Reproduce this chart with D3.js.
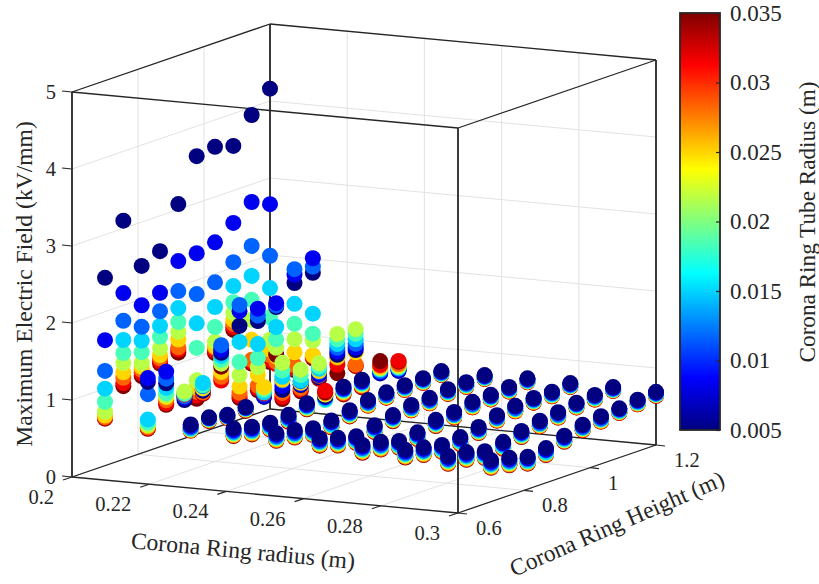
<!DOCTYPE html>
<html>
<head>
<meta charset="utf-8">
<script src="https://cdnjs.cloudflare.com/ajax/libs/d3/7.8.5/d3.min.js"></script>
<style>
  html, body { margin: 0; padding: 0; background: #fff; }
  text { font-family: "Liberation Serif", serif; fill: #262626; }
</style>
</head>
<body>
<div id="chart"></div>
<script>
// ring radius, ring height and tube radius levels of the sweep
var ringRadius = [0.2, 0.2111, 0.2222, 0.2333, 0.2444, 0.2556, 0.2667, 0.2778, 0.2889, 0.3];
var ringHeight = [0.7, 0.7556, 0.8111, 0.8667, 0.9222, 0.9778, 1.0333, 1.0889, 1.1444, 1.2];
var tubeRadius = [0.005, 0.00833, 0.01167, 0.015, 0.01833, 0.02167, 0.025, 0.02833, 0.03167, 0.035];

var xTicks = [0.2, 0.22, 0.24, 0.26, 0.28, 0.3];
var yTicks = [0.6, 0.8, 1, 1.2];
var zTicks = [0, 1, 2, 3, 4, 5];
var cTicks = [0.005, 0.01, 0.015, 0.02, 0.025, 0.03, 0.035];

// max field (kV/mm): one table per ring radius, rows = ring height, columns = tube radius
var fieldX0 = [
  [2.44,1.63,1.23,1.00,.83,.70,.65,.63,.62,.61],
  [3.10,2.16,1.80,1.55,1.38,1.25,1.13,1.06,.99,.95],
  [2.43,1.92,1.64,1.46,1.31,1.17,1.12,1.08,1.04,1.00],
  [2.54,2.00,1.76,1.57,1.43,1.28,1.19,1.15,1.11,1.08],
  [3.07,2.33,1.94,1.72,1.54,1.41,1.31,1.21,1.18,1.14],
  [3.61,2.35,1.82,1.44,1.12,.70,.61,.55,.50,.46],
  [3.65,2.41,1.89,1.57,1.31,1.12,1.06,1.04,1.00,.97],
  [3.58,2.58,2.07,1.76,1.55,1.41,1.32,1.27,1.23,1.19],
  [3.90,2.77,2.20,1.81,1.50,1.24,.98,.72,.69,.67],
  [4.16,2.66,1.99,1.57,1.19,.90,.77,.70,.64,.61]
];
var fieldX1 = [
  [1.14,1.19,.98,.65,.61,.58,.57,.55,.54,.53],
  [1.04,1.19,1.10,.98,.91,.88,.86,.82,.78,.76],
  [.74,.77,.79,.82,.83,.85,.83,.82,.81,.79],
  [.78,.80,.84,.88,.85,.83,.81,.76,.75,.74],
  [1.19,1.23,1.29,1.15,1.10,1.05,.94,.88,.83,1.01],
  [1.46,1.65,1.73,1.25,.99,.82,.67,.59,.55,.52],
  [1.44,1.60,1.51,1.14,.96,.84,.74,.60,.57,.54],
  [1.54,1.59,1.56,1.28,1.12,1.01,.90,.83,.80,.92],
  [1.77,1.88,1.95,1.50,1.24,1.04,.87,.70,.66,.64],
  [1.82,2.01,1.90,1.29,1.03,.94,.75,.74,.73,.71]
];
var fieldX2 = [
  [.64,.62,.60,.59,.58,.58,.57,.57,.56,.56],
  [.65,.64,.64,.63,.63,.62,.62,.61,.61,.60],
  [.60,.59,.59,.58,.58,.58,.57,.57,.56,.56],
  [.62,.61,.61,.60,.60,.59,.59,.58,.58,.57],
  [.67,.68,.71,.73,.76,.79,.80,.73,.72,.71],
  [.68,.73,.80,.85,.93,1.03,.81,.64,.59,.56],
  [.66,.67,.71,.72,.79,.86,.69,.62,.60,.58],
  [.68,.71,.75,.79,.82,.86,.76,.70,.67,.66],
  [.89,.93,.98,1.03,1.09,1.16,.86,.85,.76,.65],
  [.87,.90,.95,1.01,1.08,1.14,.84,.68,.67,.66]
];
var fieldX3 = [
  [.64,.62,.60,.59,.58,.57,.56,.55,.55,.54],
  [.58,.56,.54,.53,.52,.51,.50,.49,.49,.48],
  [.55,.53,.52,.50,.49,.49,.48,.47,.47,.46],
  [.57,.55,.53,.52,.51,.51,.50,.50,.49,.48],
  [.64,.62,.61,.60,.59,.58,.58,.57,.57,.56],
  [.65,.64,.63,.61,.60,.67,.68,.69,.72,.70],
  [.69,.67,.66,.65,.64,.63,.62,.61,.60,.59],
  [.70,.68,.67,.66,.65,.64,.63,.62,.61,.60],
  [.70,.71,.73,.75,.76,.77,.78,.80,.81,.86],
  [.65,.66,.68,.69,.70,.71,.73,.74,.78,.77]
];
var fieldX4 = [
  [.63,.61,.59,.58,.57,.56,.55,.54,.54,.53],
  [.59,.57,.55,.54,.53,.52,.51,.50,.50,.49],
  [.53,.51,.50,.48,.47,.47,.46,.45,.45,.44],
  [.55,.53,.52,.50,.49,.49,.48,.47,.47,.46],
  [.60,.58,.57,.56,.55,.54,.54,.53,.53,.52],
  [.65,.64,.62,.61,.61,.60,.59,.59,.58,.58],
  [.67,.66,.64,.63,.63,.62,.61,.61,.60,.60],
  [.68,.67,.66,.65,.64,.64,.63,.63,.62,.62],
  [.69,.68,.67,.66,.65,.65,.64,.64,.63,.63],
  [.70,.69,.68,.67,.67,.66,.66,.66,.65,.65]
];
var fieldX5 = [
  [.62,.60,.58,.57,.56,.55,.54,.53,.53,.52],
  [.54,.52,.50,.49,.48,.47,.46,.45,.45,.44],
  [.48,.46,.45,.43,.42,.42,.41,.40,.40,.39],
  [.54,.52,.51,.49,.48,.48,.47,.46,.46,.45],
  [.59,.57,.56,.55,.54,.53,.53,.52,.52,.51],
  [.64,.63,.61,.60,.60,.59,.58,.58,.57,.57],
  [.65,.64,.62,.61,.61,.60,.59,.59,.58,.58],
  [.68,.67,.66,.65,.64,.64,.63,.63,.62,.62],
  [.69,.68,.67,.66,.65,.65,.64,.64,.63,.63],
  [.70,.69,.68,.67,.67,.66,.66,.66,.65,.65]
];
var fieldX6 = [
  [.58,.56,.54,.53,.52,.51,.50,.49,.49,.48],
  [.54,.52,.50,.49,.48,.47,.46,.45,.45,.44],
  [.47,.45,.44,.42,.41,.41,.40,.39,.39,.38],
  [.50,.48,.47,.45,.44,.44,.43,.42,.42,.41],
  [.58,.56,.55,.54,.53,.52,.52,.51,.51,.50],
  [.60,.59,.57,.56,.56,.55,.54,.54,.53,.53],
  [.65,.64,.62,.61,.61,.60,.59,.59,.58,.58],
  [.66,.65,.64,.63,.62,.62,.61,.61,.60,.60],
  [.68,.67,.66,.65,.64,.64,.63,.63,.62,.62],
  [.71,.70,.69,.68,.68,.67,.67,.67,.66,.66]
];
var fieldX7 = [
  [.57,.55,.53,.52,.51,.50,.49,.48,.48,.47],
  [.52,.50,.48,.47,.46,.45,.44,.43,.43,.42],
  [.47,.45,.44,.42,.41,.41,.40,.39,.39,.38],
  [.49,.47,.46,.44,.43,.43,.42,.41,.41,.40],
  [.54,.52,.51,.50,.49,.48,.48,.47,.47,.46],
  [.61,.60,.58,.57,.57,.56,.55,.55,.54,.54],
  [.65,.64,.62,.61,.61,.60,.59,.59,.58,.58],
  [.67,.66,.65,.64,.63,.63,.62,.62,.61,.61],
  [.67,.66,.65,.64,.63,.63,.62,.62,.61,.61],
  [.70,.69,.68,.67,.67,.66,.66,.66,.65,.65]
];
var fieldX8 = [
  [.54,.52,.50,.49,.48,.47,.46,.45,.45,.44],
  [.51,.49,.47,.46,.45,.44,.43,.42,.42,.41],
  [.44,.42,.41,.39,.38,.38,.37,.36,.36,.35],
  [.48,.46,.45,.43,.42,.42,.41,.40,.40,.39],
  [.54,.52,.51,.50,.49,.48,.48,.47,.47,.46],
  [.59,.58,.56,.55,.55,.54,.53,.53,.52,.52],
  [.62,.61,.59,.58,.58,.57,.56,.56,.55,.55],
  [.66,.65,.64,.63,.62,.62,.61,.61,.60,.60],
  [.68,.67,.66,.65,.64,.64,.63,.63,.62,.62],
  [.70,.69,.68,.67,.67,.66,.66,.66,.65,.65]
];
var fieldX9 = [
  [.54,.52,.50,.49,.48,.47,.46,.45,.45,.44],
  [.49,.47,.45,.44,.43,.42,.41,.40,.40,.39],
  [.42,.40,.39,.37,.36,.36,.35,.34,.34,.33],
  [.45,.43,.42,.40,.39,.39,.38,.37,.37,.36],
  [.53,.51,.50,.49,.48,.47,.47,.46,.46,.45],
  [.59,.58,.56,.55,.55,.54,.53,.53,.52,.52],
  [.62,.61,.59,.58,.58,.57,.56,.56,.55,.55],
  [.64,.63,.62,.61,.60,.60,.59,.59,.58,.58],
  [.67,.66,.65,.64,.63,.63,.62,.62,.61,.61],
  [.69,.68,.67,.66,.66,.65,.65,.65,.64,.64]
];
var fieldTables = [fieldX0, fieldX1, fieldX2, fieldX3, fieldX4, fieldX5, fieldX6, fieldX7, fieldX8, fieldX9];

var width = 819, height = 584;
var svg = d3.select("#chart").append("svg")
  .attr("width", width)
  .attr("height", height)
  .style("display", "block");

// box corners, the view is an orthographic skew
var originX = 72, originY = 477;
var xn = d3.scaleLinear().domain([0.2, 0.3]).range([0, 1]);
var yn = d3.scaleLinear().domain([0.6, 1.2]).range([0, 1]);
var zn = d3.scaleLinear().domain([0, 5]).range([0, 1]);

function project(x, y, z) {
  return [
    originX + 386 * xn(x) + 198 * yn(y),
    originY + 36 * xn(x) - 68 * yn(y) - 385 * zn(z)
  ];
}
// nearer to the camera = bigger
function depth(x, y, z) {
  return 76230 * xn(x) - 148610 * yn(y) + 33376 * zn(z);
}

var jet = d3.scaleLinear()
  .domain([0, 0.125, 0.375, 0.625, 0.875, 1])
  .range(["#000080", "#0000ff", "#00ffff", "#ffff00", "#ff0000", "#800000"]);
var cNorm = d3.scaleLinear().domain([0.005, 0.035]).range([0, 1]);

function seg(g, a, b, color, w) {
  g.append("line")
    .attr("x1", a[0]).attr("y1", a[1])
    .attr("x2", b[0]).attr("y2", b[1])
    .attr("stroke", color)
    .attr("stroke-width", w);
}

// grid on the two back walls and the floor
var grid = svg.append("g");
var gridColor = "#e2e2e2";
xTicks.forEach(function(x) {
  seg(grid, project(x, 0.6, 0), project(x, 1.2, 0), gridColor, 1);
  seg(grid, project(x, 1.2, 0), project(x, 1.2, 5), gridColor, 1);
});
yTicks.forEach(function(y) {
  seg(grid, project(0.3, y, 0), project(0.2, y, 0), gridColor, 1);
  seg(grid, project(0.2, y, 0), project(0.2, y, 5), gridColor, 1);
});
zTicks.forEach(function(z) {
  seg(grid, project(0.2, 0.6, z), project(0.2, 1.2, z), gridColor, 1);
  seg(grid, project(0.2, 1.2, z), project(0.3, 1.2, z), gridColor, 1);
});

// box
var box = svg.append("g");
var dark = "#262626";
seg(box, project(0.2, 0.6, 0), project(0.3, 0.6, 0), dark, 1.3);
seg(box, project(0.3, 0.6, 0), project(0.3, 1.2, 0), dark, 1.3);
seg(box, project(0.2, 0.6, 0), project(0.2, 1.2, 0), dark, 1.3);
seg(box, project(0.2, 1.2, 0), project(0.3, 1.2, 0), dark, 1.3);
seg(box, project(0.2, 0.6, 5), project(0.3, 0.6, 5), dark, 1.3);
seg(box, project(0.3, 0.6, 5), project(0.3, 1.2, 5), dark, 1.3);
seg(box, project(0.2, 0.6, 5), project(0.2, 1.2, 5), dark, 1.3);
seg(box, project(0.2, 1.2, 5), project(0.3, 1.2, 5), dark, 1.3);
seg(box, project(0.2, 0.6, 0), project(0.2, 0.6, 5), dark, 1.8);
seg(box, project(0.3, 0.6, 0), project(0.3, 0.6, 5), dark, 1.8);
seg(box, project(0.3, 1.2, 0), project(0.3, 1.2, 5), dark, 1.8);
seg(box, project(0.2, 1.2, 0), project(0.2, 1.2, 5), dark, 1.8);

// ticks and labels
var labels = svg.append("g").style("font-size", "20.5px");
xTicks.forEach(function(x) {
  var p = project(x, 0.6, 0);
  seg(box, p, [p[0] - 9, p[1] + 3], dark, 1.2);
  labels.append("text").attr("x", p[0] - 18).attr("y", p[1] + 27)
    .attr("text-anchor", "end").text(x);
});
yTicks.forEach(function(y) {
  var p = project(0.3, y, 0);
  seg(box, p, [p[0] + 9, p[1] + 1], dark, 1.2);
  labels.append("text").attr("x", p[0] + 18).attr("y", p[1] + 22)
    .attr("text-anchor", "start").text(y);
});
zTicks.forEach(function(z) {
  var p = project(0.2, 0.6, z);
  seg(box, p, [p[0] - 10, p[1] - 1], dark, 1.2);
  labels.append("text").attr("x", p[0] - 16).attr("y", p[1] + 7)
    .attr("text-anchor", "end").text(z);
});

var axisLabels = svg.append("g").style("font-size", "23.6px");
axisLabels.append("text")
  .attr("transform", "translate(243,551) rotate(5.3)")
  .attr("text-anchor", "middle").attr("dy", "0.32em")
  .text("Corona Ring radius (m)");
axisLabels.append("text")
  .attr("transform", "translate(617,524) rotate(-23.5)")
  .attr("text-anchor", "middle").attr("dy", "0.32em")
  .text("Corona Ring Height (m)");
axisLabels.append("text")
  .attr("transform", "translate(24,284) rotate(-90)")
  .attr("text-anchor", "middle").attr("dy", "0.32em")
  .text("Maximum Electric Field (kV/mm)");

// flatten the tables into points, far ones first
var points = [];
ringRadius.forEach(function(x, i) {
  ringHeight.forEach(function(y, j) {
    tubeRadius.forEach(function(r, k) {
      points.push({ x: x, y: y, r: r, z: fieldTables[i][j][k], k: k });
    });
  });
});
points.sort(function(a, b) {
  return (depth(a.x, a.y, a.z) - depth(b.x, b.y, b.z)) || (b.k - a.k);
});

svg.append("g").selectAll("circle")
  .data(points)
  .enter()
  .append("circle")
    .attr("cx", function(d) { return project(d.x, d.y, d.z)[0]; })
    .attr("cy", function(d) { return project(d.x, d.y, d.z)[1]; })
    .attr("r", 8)
    .attr("fill", function(d) { return jet(cNorm(d.r)); });

// colorbar
var barX = 680, barW = 40, barTop = 13, barBottom = 430;
var cScale = d3.scaleLinear().domain([0.005, 0.035]).range([barBottom, barTop]);
var defs = svg.append("defs");
var grad = defs.append("linearGradient")
  .attr("id", "jetbar")
  .attr("x1", 0).attr("y1", 1)
  .attr("x2", 0).attr("y2", 0);
jet.domain().forEach(function(t) {
  grad.append("stop").attr("offset", t).attr("stop-color", jet(t));
});
svg.append("rect")
  .attr("x", barX).attr("y", barTop)
  .attr("width", barW).attr("height", barBottom - barTop)
  .attr("fill", "url(#jetbar)")
  .attr("stroke", dark).attr("stroke-width", 1.8);

var cAxis = svg.append("g")
  .attr("transform", "translate(" + (barX + barW) + ",0)")
  .call(d3.axisRight(cScale)
    .tickValues(cTicks)
    .tickSize(-4)
    .tickPadding(10)
    .tickFormat(function(d) { return d; }));
cAxis.select(".domain").remove();
cAxis.selectAll("line").attr("stroke", dark).attr("stroke-width", 1.2);
cAxis.selectAll("text")
  .style("font-family", '"Liberation Serif", serif')
  .style("font-size", "23px")
  .attr("fill", dark);

svg.append("text")
  .attr("transform", "translate(808,222) rotate(-90)")
  .attr("text-anchor", "middle").attr("dy", "0.32em")
  .style("font-size", "23.2px")
  .text("Corona Ring Tube Radius (m)");
</script>
</body>
</html>
